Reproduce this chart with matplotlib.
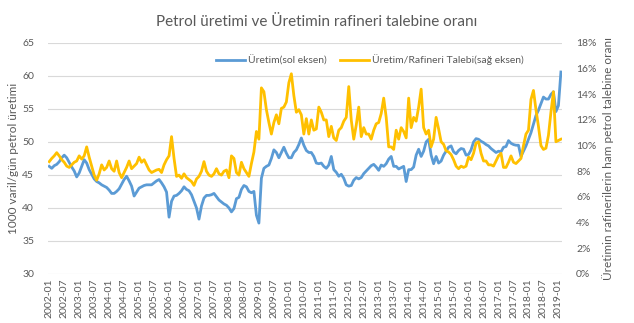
#!/usr/bin/env python3

# imports
import matplotlib
matplotlib.use('Agg')
import matplotlib.pyplot as plt
from matplotlib.ticker import FuncFormatter

plt.rcParams['font.family'] = ['Lato', 'DejaVu Sans']

# monthly data 2002-01 .. 2019-02
start_year = 2002
production = [
    46.3, 46.0, 46.4, 46.6, 47.0, 47.6, 48.0, 47.6, 46.9, 46.2,
    45.6, 44.7, 45.3, 46.3, 47.3, 46.8, 45.8, 45.1, 44.4, 44.0,
    43.8, 43.5, 43.3, 43.1, 42.7, 42.2, 42.2, 42.5, 42.9, 43.6,
    44.3, 44.8, 44.1, 43.3, 41.8, 42.4, 43.0, 43.2, 43.4, 43.5,
    43.5, 43.5, 43.8, 44.1, 44.3, 43.8, 43.2, 42.4, 38.6, 41.0,
    41.8, 41.9, 42.2, 42.6, 43.2, 42.8, 42.6, 42.0, 41.0, 40.0,
    38.3, 40.3, 41.5, 41.9, 41.9, 42.0, 42.2, 41.7, 41.2, 40.9,
    40.6, 40.4, 40.0, 39.4, 39.9, 41.4, 41.6, 42.8, 43.4, 43.2,
    42.5, 42.3, 42.5, 38.9, 37.7, 44.5, 46.0, 46.3, 46.5, 47.5,
    48.8, 48.4, 47.6, 48.4, 49.2, 48.3, 47.6, 47.6, 48.4, 48.8,
    49.6, 50.6, 49.5, 48.7, 48.4, 48.4, 47.8, 46.8, 46.7, 46.8,
    46.3, 46.0, 46.5, 47.8, 45.8, 45.4, 44.8, 45.1, 44.5, 43.5,
    43.3, 43.4, 44.2, 44.6, 44.4, 44.6, 45.2, 45.6, 46.0, 46.4,
    46.6, 46.2, 45.7, 46.5, 46.3, 46.7, 47.4, 47.8, 46.3, 46.3,
    45.9, 46.1, 46.3, 44.0, 45.8, 45.8, 46.2, 48.0, 48.9, 47.8,
    48.6, 50.0, 50.4, 48.0, 46.7, 47.8, 46.8, 47.1, 48.0, 48.6,
    49.2, 49.4, 48.5, 48.2, 48.7, 49.0, 48.9, 48.0, 48.1, 48.8,
    50.0, 50.5, 50.4, 50.1, 49.9, 49.6, 49.4, 49.0, 48.7, 48.4,
    48.6, 48.5, 49.2, 49.3, 50.2, 49.8, 49.6, 49.5, 49.5, 47.8,
    48.6, 49.4, 50.4, 51.4, 52.7, 54.0, 54.8, 55.8, 56.8, 56.5,
    56.5, 57.2, 57.6, 54.6, 55.5, 60.6,
]
ratio = [
    8.75, 9.0, 9.2, 9.45, 9.2, 8.9, 8.7, 8.4, 8.3, 8.5,
    8.7, 8.8, 9.2, 8.95, 9.2, 9.9, 9.1, 8.4, 7.7, 7.3,
    7.8, 8.5, 8.1, 8.3, 8.8, 8.2, 8.0, 8.8, 7.9, 7.5,
    7.9, 8.3, 8.8, 8.2, 8.4, 8.6, 9.1, 8.7, 8.9, 8.5,
    8.1, 7.9, 8.0, 8.1, 8.15, 7.9, 8.5, 8.9, 9.2, 10.7,
    9.0, 7.6, 7.7, 7.45, 7.8, 7.5, 7.35, 7.2, 6.9, 7.4,
    7.6, 8.0, 8.75, 8.0, 7.7, 7.6, 7.8, 8.2, 7.8, 7.7,
    8.0, 8.1, 7.5, 9.2, 9.0, 7.9, 7.7, 8.7, 8.2, 7.9,
    7.6, 8.6, 9.5, 11.1, 10.5, 14.5, 14.2, 12.8, 11.8, 10.9,
    11.8, 12.4, 11.7, 12.9, 13.0, 13.4, 14.9, 15.6, 13.9, 12.6,
    12.8, 12.4, 10.9, 12.1, 10.9, 12.0, 11.2, 11.3, 13.0, 12.6,
    12.0, 12.0, 10.7, 11.5, 10.6, 10.4, 11.2, 11.4, 11.9, 12.2,
    14.6, 12.0, 10.5, 11.6, 13.0, 10.7, 11.4, 10.9, 10.9, 10.5,
    11.2, 11.7, 11.8, 12.5, 13.7, 12.2, 9.9, 9.9, 9.7, 11.2,
    10.5, 11.4, 11.1, 10.6, 13.7, 11.4, 12.2, 11.9, 13.0, 14.4,
    11.4, 10.9, 11.2, 9.9, 10.5, 12.2, 11.3, 10.3, 10.1, 9.6,
    9.5, 9.3, 8.9, 8.4, 8.2, 8.4, 8.3, 8.4, 9.1, 8.9,
    9.4, 10.2, 10.3, 9.4, 8.8, 8.8, 8.5, 8.5, 8.4, 8.8,
    9.2, 9.4, 8.3, 8.3, 8.7, 9.2, 8.7, 8.6, 8.8, 9.0,
    10.0, 10.9, 11.2, 13.6, 14.3, 12.8, 11.5, 10.0, 9.7, 9.8,
    10.8, 12.6, 14.2, 10.3, 10.4, 10.5,
]
months = ['%d-%02d' % (start_year + i // 12, i % 12 + 1) for i in range(len(production))]

gray = '#595959'
blue = '#5B9BD5'
yellow = '#FFC000'

fig = plt.figure(figsize=(6.34, 3.23), dpi=100)
ax = fig.add_axes([0.0757, 0.152, 0.811, 0.715])
ax2 = ax.twinx()

x = range(len(production))
l1, = ax.plot(x, production, color=blue, lw=2.0, label='Üretim(sol eksen)')
l2, = ax2.plot(x, ratio, color=yellow, lw=2.0, label='Üretim/Rafineri Talebi(sağ eksen)')

# left axis
ax.set_ylim(30, 65)
ax.set_yticks(range(30, 66, 5))
ax.grid(axis='y', color='#D9D9D9', lw=0.8)
ax.set_axisbelow(True)
ax.set_ylabel('1000 varil/gün petrol üretimi', color=gray, fontsize=8.5, labelpad=2)

# right axis
ax2.set_ylim(0, 18)
ax2.set_yticks(range(0, 19, 2))
ax2.yaxis.set_major_formatter(FuncFormatter(lambda v, p: '%d%%' % v))
ax2.set_ylabel('Üretimin rafinerilerin ham petrol talebine oranı', color=gray, fontsize=8.5, labelpad=4)

# x axis
ax.set_xlim(-0.5, len(production) - 0.5)
ax.set_xticks(list(range(0, len(production), 6)))
ax.set_xticklabels(months[::6], rotation=90)

for a in (ax, ax2):
    for s in a.spines.values():
        s.set_visible(False)
    a.tick_params(length=0, colors=gray, labelsize=7.5)
ax.tick_params(axis='y', pad=10)
ax2.tick_params(axis='y', pad=10)

ax2.legend(handles=[l1, l2], loc='center', bbox_to_anchor=(0.626, 0.926),
           ncol=2, frameon=False, fontsize=7.5, labelcolor=gray,
           handlelength=2.8, columnspacing=1.2, handletextpad=0.3)

fig.suptitle('Petrol üretimi ve Üretimin rafineri talebine oranı',
             x=0.5, y=0.955, fontsize=11, color=gray)

plt.savefig('out.png', dpi=100)
